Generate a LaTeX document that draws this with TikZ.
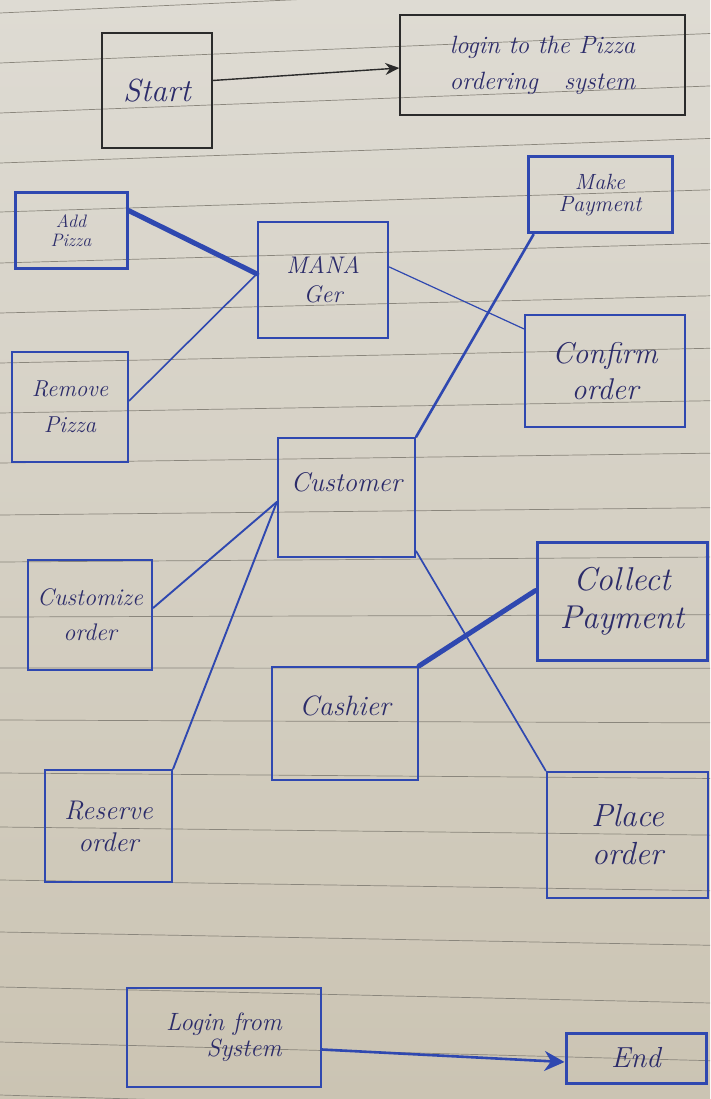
\documentclass[tikz,border=0pt]{standalone}
\usetikzlibrary{calc,arrows.meta}
\definecolor{paper}{HTML}{DEDBD3}
\definecolor{paperb}{HTML}{CBC4B3}
\definecolor{rulec}{HTML}{8A867C}
\definecolor{pen}{HTML}{2F48B0}
\definecolor{ink}{HTML}{2C2C6A}
\definecolor{dark}{HTML}{2B2B2B}
\begin{document}
\begin{tikzpicture}[x=1pt,y=-1pt,
  bx/.style={draw=pen, line width=2.2pt, align=center, text=ink, inner sep=0pt, font=\itshape\fontsize{20}{24}\selectfont},
  kbx/.style={bx, draw=dark, line width=1.4pt},
  conn/.style={draw=pen, line width=1.6pt, line cap=round},
  heavy/.style={draw=pen, line width=5pt, line cap=round},
  fs/.style={font=\itshape\fontsize{#1}{\numexpr#1*6/5\relax pt}\selectfont}
]
% paper
\shade[top color=paper, bottom color=paperb] (0,0) rectangle (710,1099);
\useasboundingbox (0,0) rectangle (710,1099);
\foreach \yy in {13,63,113,163,212,263,313,363,413,463,515,562,617,668,720,773,827,880,932,987,1042,1095}{
  \pgfmathsetmacro{\rr}{\yy + 710*(-0.045 + 0.075*(\yy-13)/1082)}
  \draw[rulec, line width=0.7pt] (0,\yy) -- (710,\rr);
}
% boxes
\node[kbx, fs=32, minimum width=110pt, minimum height=115pt] (start) at (157,90.5) {Start};
\node[kbx, fs=25, draw=dark, minimum width=285pt, minimum height=100pt] (login) at (542.5,65) {login to the Pizza\\[6pt]ordering \ \ system};
\node[bx, fs=18, line width=3pt, minimum width=112pt, minimum height=75pt] (addp) at (71,230.5) {Add\\[-3pt]Pizza};
\node[bx, fs=24, minimum width=130pt, minimum height=116pt] (mgr) at (323,280) {MANA\\Ger};
\node[bx, fs=22, line width=3pt, minimum width=144pt, minimum height=76pt] (makep) at (600,195) {Make\\[-4pt]Payment};
\node[bx, fs=23, minimum width=116pt, minimum height=110pt] (remp) at (70,407) {Remove\\[8pt]Pizza};
\node[bx, fs=30, minimum width=160pt, minimum height=112pt] (conf) at (605,371) {Confirm\\[0pt]order};
\node[bx, minimum width=137pt, minimum height=119pt,
  label={[anchor=north, yshift=-32pt, text=ink, fs=27]north:Customer}] (cust) at (346.5,497.5) {};
\node[bx, fs=24, minimum width=124pt, minimum height=110pt] (custz) at (90,615) {Customize\\[6pt]order};
\node[bx, fs=33, line width=3pt, minimum width=170pt, minimum height=118pt] (collp) at (622,601) {Collect\\[-2pt]Payment};
\node[bx, minimum width=146pt, minimum height=113pt,
  label={[anchor=north, yshift=-26pt, text=ink, fs=28]north:Cashier}] (cash) at (345,723.5) {};
\node[bx, fs=27, minimum width=127pt, minimum height=112pt] (res) at (108.5,826) {Reserve\\[0pt]order};
\node[bx, fs=32, line width=2.6pt, minimum width=161pt, minimum height=126pt] (place) at (627.5,835) {Place\\order};
\node[bx, fs=25, minimum width=194pt, minimum height=99pt] (loginf) at (224,1037.5) {Login from\\[-4pt]\hspace*{40pt}System};
\node[bx, fs=29, line width=3pt, minimum width=140pt, minimum height=50pt] (endn) at (636,1058) {End};
% connectors
\draw[dark, line width=1.4pt, -{Stealth[length=14pt,width=12pt]}] ([yshift=10pt]start.east) -- ([yshift=-3pt]login.west);
\draw[heavy] ([yshift=-19pt]addp.north east) -- ([yshift=-53pt]mgr.north west);
\draw[conn] ([yshift=-50pt]remp.north east) -- ([yshift=-53pt]mgr.north west);
\draw[conn, line width=1.2pt] ([yshift=-46pt]mgr.north east) -- ([yshift=-15pt]conf.north west);
\draw[conn, line width=2.6pt] (cust.north east) -- ([xshift=7pt]makep.south west);
\draw[conn, line width=1.9pt] ([yshift=7pt]custz.east) -- ([yshift=-65pt]cust.north west);
\draw[conn, line width=1.9pt] (res.north east) -- ([yshift=-65pt]cust.north west);
\draw[conn, line width=1.7pt] ([yshift=7pt]cust.south east) -- (place.north west);
\draw[heavy] (cash.north east) -- ([yshift=-50pt]collp.north west);
\draw[pen, line width=2.6pt, -{Stealth[length=20pt,width=20pt]}] ([yshift=-12pt]loginf.east) -- ([yshift=-4pt]endn.west);
\end{tikzpicture}
\end{document}
